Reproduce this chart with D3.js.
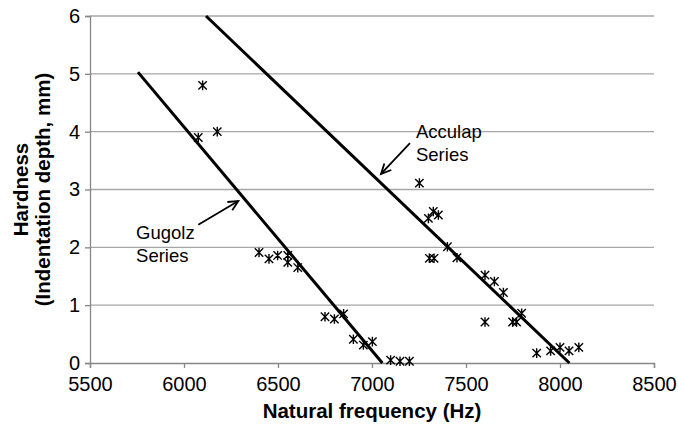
<!DOCTYPE html>
<html>
<head>
<meta charset="utf-8">
<script src="https://cdn.jsdelivr.net/npm/d3@7"></script>
<style>
  html, body { margin: 0; padding: 0; background: #fff; }
  svg { display: block; font-family: Arial, "Liberation Sans", sans-serif; }
</style>
</head>
<body>
<svg id="chart" width="678" height="428"></svg>
<script>
// ---- data ----
const xTicks = [5500, 6000, 6500, 7000, 7500, 8000, 8500];
const yTicks = [0, 1, 2, 3, 4, 5, 6];

const gugolzFreq = [6076, 6099, 6177, 6399, 6452, 6498, 6552, 6552, 6605, 6750, 6800, 6849, 6901, 6954, 7002, 7099, 7149, 7199];
const gugolzHard = [3.90, 4.80, 4.00, 1.91, 1.80, 1.86, 1.86, 1.74, 1.65, 0.80, 0.76, 0.85, 0.41, 0.31, 0.37, 0.05, 0.03, 0.03];

const acculapFreq = [7252, 7300, 7326, 7353, 7305, 7330, 7401, 7452, 7601, 7651, 7699, 7601, 7748, 7769, 7796, 7876, 7950, 8000, 8048, 8100];
const acculapHard = [3.11, 2.50, 2.62, 2.56, 1.81, 1.81, 2.01, 1.82, 1.52, 1.41, 1.22, 0.71, 0.71, 0.71, 0.86, 0.17, 0.21, 0.27, 0.21, 0.27];

const gugolzLineFreq = [5755, 7055];
const gugolzLineHard = [5.03, 0];
const acculapLineFreq = [6117, 8050];
const acculapLineHard = [6.0, 0];

// annotations (data units)
const accArrowFreq = [7202, 7048];
const accArrowHard = [3.80, 3.27];
const gugArrowFreq = [6076, 6289];
const gugArrowHard = [2.39, 2.80];
const accLabel = ["Acculap", "Series"];
const gugLabel = ["Gugolz", "Series"];
const accLabelPos = [7234, 3.89];
const gugLabelPos = [5745, 2.15];

// ---- layout ----
const svg = d3.select("#chart");
const x = d3.scaleLinear().domain([5500, 8500]).range([90, 654]);
const y = d3.scaleLinear().domain([0, 6]).range([363, 16]);

const gridColor = "#a6a6a6";
const axisColor = "#868686";

// gridlines
svg.append("g").selectAll("line")
  .data(yTicks.filter(d => d > 0))
  .join("line")
  .attr("x1", x(5500)).attr("x2", x(8500))
  .attr("y1", d => y(d)).attr("y2", d => y(d))
  .attr("stroke", gridColor).attr("stroke-width", 1.3);

// x axis
const xAxis = svg.append("g")
  .attr("transform", `translate(0,${y(0)})`)
  .call(d3.axisBottom(x).tickValues(xTicks).tickFormat(d3.format("d")).tickSize(5).tickPadding(9));
xAxis.select(".domain").attr("stroke", axisColor).attr("stroke-width", 1.3);
xAxis.selectAll(".tick line").attr("stroke", axisColor).attr("stroke-width", 1.3);
xAxis.selectAll(".tick text").attr("font-size", 20).attr("fill", "#000")
  .attr("font-family", "Arial, 'Liberation Sans', sans-serif");

// y axis
const yAxis = svg.append("g")
  .attr("transform", `translate(${x(5500)},0)`)
  .call(d3.axisLeft(y).tickValues(yTicks).tickFormat(d3.format("d")).tickSize(5).tickPadding(5));
yAxis.select(".domain").attr("stroke", axisColor).attr("stroke-width", 1.3);
yAxis.selectAll(".tick line").attr("stroke", axisColor).attr("stroke-width", 1.3);
yAxis.selectAll(".tick text").attr("font-size", 20).attr("fill", "#000")
  .attr("font-family", "Arial, 'Liberation Sans', sans-serif");

// trend lines
const line = d3.line().x(d => x(d[0])).y(d => y(d[1]));
svg.append("path")
  .datum(gugolzLineFreq.map((f, i) => [f, gugolzLineHard[i]]))
  .attr("d", line).attr("stroke", "#000").attr("stroke-width", 3).attr("fill", "none");
svg.append("path")
  .datum(acculapLineFreq.map((f, i) => [f, acculapLineHard[i]]))
  .attr("d", line).attr("stroke", "#000").attr("stroke-width", 3).attr("fill", "none");

// star markers
const r = 4.2;
const starPath = `M${-r},${-r}L${r},${r}M${-r},${r}L${r},${-r}M0,${-r - 0.6}L0,${r + 0.6}`;
function drawPoints(fr, hd) {
  svg.append("g").selectAll("path")
    .data(fr.map((f, i) => [f, hd[i]]))
    .join("path")
    .attr("transform", d => `translate(${x(d[0])},${y(d[1])})`)
    .attr("d", starPath)
    .attr("stroke", "#000").attr("stroke-width", 1.4).attr("fill", "none");
}
drawPoints(gugolzFreq, gugolzHard);
drawPoints(acculapFreq, acculapHard);

// arrows
function arrow(fx, hy) {
  const x1 = x(fx[0]), y1 = y(hy[0]), x2 = x(fx[1]), y2 = y(hy[1]);
  const g = svg.append("g").attr("stroke", "#000").attr("stroke-width", 1.8).attr("fill", "none");
  g.append("line").attr("x1", x1).attr("y1", y1).attr("x2", x2).attr("y2", y2);
  const ang = Math.atan2(y2 - y1, x2 - x1);
  const L = 11, spread = 0.45;
  const p1 = [x2 - L * Math.cos(ang - spread), y2 - L * Math.sin(ang - spread)];
  const p2 = [x2 - L * Math.cos(ang + spread), y2 - L * Math.sin(ang + spread)];
  g.append("path").attr("d", `M${p1[0]},${p1[1]}L${x2},${y2}L${p2[0]},${p2[1]}`);
}
arrow(accArrowFreq, accArrowHard);
arrow(gugArrowFreq, gugArrowHard);

function label(lines, pos) {
  const t = svg.append("text")
    .attr("x", x(pos[0])).attr("y", y(pos[1]))
    .attr("font-size", 18.5).attr("fill", "#000");
  lines.forEach((s, i) => {
    t.append("tspan").attr("x", x(pos[0])).attr("dy", i === 0 ? 0 : 23).text(s);
  });
}
label(accLabel, accLabelPos);
label(gugLabel, gugLabelPos);

// axis titles
svg.append("text")
  .attr("x", (x(5500) + x(8500)) / 2).attr("y", 418)
  .attr("text-anchor", "middle").attr("font-size", 20.5).attr("font-weight", "bold")
  .text("Natural frequency (Hz)");

const yt = svg.append("text")
  .attr("transform", `translate(0,${(y(0) + y(6)) / 2}) rotate(-90)`)
  .attr("text-anchor", "middle").attr("font-size", 20.5).attr("font-weight", "bold");
yt.append("tspan").attr("x", 0).attr("y", 28).text("Hardness");
yt.append("tspan").attr("x", 0).attr("y", 50).text("(Indentation depth, mm)");
</script>
</body>
</html>
